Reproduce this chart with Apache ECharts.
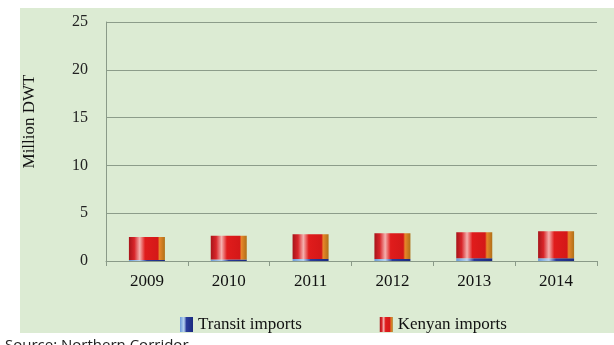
<!DOCTYPE html>
<html>
<head>
<meta charset="UTF-8">
<title></title>
<script src="https://cdn.jsdelivr.net/npm/echarts@6/dist/echarts.min.js"></script>
<style>
	body { margin: 0; background: #fff; width: 614px; height: 345px; overflow: hidden; position: relative; }
	#paper { position: absolute; left: 20px; top: 8px; width: 594px; height: 325px; background: #dcebd3; }
	#main { position: absolute; left: 0; top: 0; width: 614px; height: 345px; }
	#src { position: absolute; left: 5px; top: 334px; font-family: "Open Sans", sans-serif; font-size: 15px; color: #222; }
</style>
</head>
<body>
<div id="paper"></div>
<div id="main"></div>
<div id="src">Source: Northern Corridor</div>
<script>
	// data (million DWT)
	var years = ['2009', '2010', '2011', '2012', '2013', '2014'];
	var transitImports = [0.1, 0.15, 0.2, 0.2, 0.3, 0.3];
	var kenyanImports = [2.4, 2.5, 2.6, 2.7, 2.7, 2.8];

	var serif = '"Liberation Serif", "DejaVu Serif", serif';

	var redFill = new echarts.graphic.LinearGradient(0, 0, 1, 0, [
		{ offset: 0, color: '#a8141a' },
		{ offset: 0.15, color: '#d8262a' },
		{ offset: 0.3, color: '#f4b0ae' },
		{ offset: 0.45, color: '#e01c1c' },
		{ offset: 0.8, color: '#d41818' },
		{ offset: 0.85, color: '#e8862a' },
		{ offset: 1, color: '#b07018' }
	]);
	var blueFill = new echarts.graphic.LinearGradient(0, 0, 1, 0, [
		{ offset: 0, color: '#6a9ad8' },
		{ offset: 0.3, color: '#b8d4f0' },
		{ offset: 0.5, color: '#2a3c9a' },
		{ offset: 1, color: '#1a2a80' }
	]);

	var chart = echarts.init(document.getElementById('main'));
	chart.setOption({
		animation: false,
		grid: { left: 106, right: 17, top: 22, bottom: 84 },
		legend: {
			top: 316,
			left: 180,
			padding: 0,
			itemGap: 78,
			itemWidth: 13,
			itemHeight: 15,
			icon: 'rect',
			textStyle: { fontFamily: serif, fontSize: 17, color: '#111' },
			data: ['Transit imports', 'Kenyan imports']
		},
		xAxis: {
			type: 'category',
			data: years,
			axisLine: { lineStyle: { color: '#8a9a88' } },
			axisTick: { show: true, length: 5, lineStyle: { color: '#8a9a88' } },
			axisLabel: { fontFamily: serif, fontSize: 17, color: '#111', margin: 12 }
		},
		yAxis: {
			type: 'value',
			min: 0,
			max: 25,
			interval: 5,
			name: 'Million DWT',
			nameLocation: 'middle',
			nameGap: 68,
			nameTextStyle: { fontFamily: serif, fontSize: 17, color: '#111', padding: [0, 0, 0, 40] },
			axisLine: { show: true, lineStyle: { color: '#8a9a88' } },
			axisTick: { show: false },
			axisLabel: { fontFamily: serif, fontSize: 16, color: '#222', margin: 18 },
			splitLine: { lineStyle: { color: '#8c9c8a', width: 1 } }
		},
		series: [
			{
				name: 'Transit imports',
				type: 'bar',
				stack: 'imports',
				barWidth: 36,
				itemStyle: { color: blueFill },
				data: transitImports
			},
			{
				name: 'Kenyan imports',
				type: 'bar',
				stack: 'imports',
				barWidth: 36,
				itemStyle: { color: redFill },
				data: kenyanImports
			}
		]
	});
</script>
</body>
</html>
